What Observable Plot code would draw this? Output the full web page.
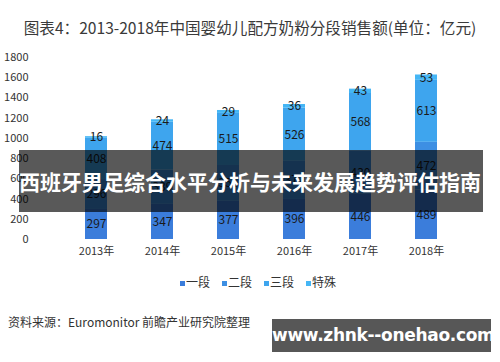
<!DOCTYPE html>
<html><head><meta charset="utf-8">
<script src="https://cdn.jsdelivr.net/npm/d3@7"></script>
<script src="https://cdn.jsdelivr.net/npm/@observablehq/plot@0.6"></script>
<style>
body{margin:0;background:#fff;}
#wrap{position:relative;width:500px;height:362px;overflow:hidden;font-family:"Noto Sans CJK SC","Noto Sans",sans-serif;background:#fff;}
.abs{position:absolute;white-space:nowrap;}
</style></head>
<body><div id="wrap"></div>
<script>
const years = ["2013年","2014年","2015年","2016年","2017年","2018年"];
const seriesNames = ["一段","二段","三段","特殊"];
const seg1 = [297,347,377,396,446,489];
const seg2 = [296,339,355,377,430,472];
const seg3 = [408,474,515,526,568,613];
const special = [16,24,29,36,43,53];
const colors = ["#3b7ddb","#3d8fe3","#3ea5ee","#45b6f5"];
const yTicks = [0,200,400,600,800,1000,1200,1400,1600,1800];
const titleText = "图表4：2013-2018年中国婴幼儿配方奶粉分段销售额(单位：亿元)";
const sourceText = "资料来源：Euromonitor 前瞻产业研究院整理";
const bannerText = "西班牙男足综合水平分析与未来发展趋势评估指南";
const watermarkText = "www.zhnk--onehao.com";

const allSeries = [seg1, seg2, seg3, special];
const data = [];
seriesNames.forEach((s, i) => years.forEach((y, j) => data.push({year: y, series: s, value: allSeries[i][j]})));

const wrap = document.getElementById("wrap");
function addDiv(html, style){const d=document.createElement("div");d.className="abs";d.innerHTML=html;d.setAttribute("style",style);wrap.appendChild(d);return d;}

addDiv(titleText, "left:0;width:500px;text-align:center;top:16px;font-size:15.6px;line-height:22px;color:#3a3a3a;");

const chart = Plot.plot({
  width: 500, height: 220,
  marginTop: 12, marginBottom: 26, marginLeft: 40, marginRight: 18,
  style: {fontFamily: "'Noto Sans CJK SC','Noto Sans',sans-serif", fontSize: "11px", color: "#333", background: "transparent"},
  x: {domain: years, padding: 0.67, label: null, tickSize: 0, tickPadding: 8},
  y: {domain: [0,1800], ticks: yTicks, tickFormat: d => String(d), label: null, tickSize: 0, tickPadding: 12},
  color: {domain: seriesNames, range: colors},
  marks: [
    Plot.gridY(yTicks, {stroke: "#d9d9d9", strokeOpacity: 1, x1: 40, x2: 478}),
    Plot.barY(data, {x: "year", y: "value", fill: "series", order: seriesNames}),
    Plot.textY(data, Plot.stackY({x: "year", y: "value", z: "series", text: d => String(d.value), order: seriesNames, fill: "#1a1a1a", fontSize: 12}))
  ]
});
chart.style.position = "absolute";
chart.style.left = "0px";
chart.style.top = "45px";
wrap.appendChild(chart);

// legend
const legend = addDiv("", "left:0;width:500px;top:274px;text-align:center;font-size:12px;line-height:16px;color:#333;padding-left:8px;");
seriesNames.forEach((s,i)=>{
  const sp=document.createElement("span");
  sp.style.marginRight = i<3 ? "12px" : "0";
  sp.innerHTML = `<span style="display:inline-block;width:5px;height:5px;background:${colors[i]};vertical-align:middle;margin-right:1px;"></span>${s}`;
  legend.appendChild(sp);
});

addDiv(sourceText, "left:8px;top:313px;font-size:12px;line-height:18px;color:#333;");

// overlay banner
addDiv(bannerText, "left:19px;top:150px;width:464px;height:62px;background:rgba(0,0,0,0.65);color:#fff;font-weight:bold;font-size:21px;line-height:62px;");

// faded text behind watermark
addDiv("©前瞻经济学人APP", "left:380px;top:336px;font-size:12px;color:#666;");
addDiv(watermarkText, "left:272px;top:319px;width:219px;height:33px;background:#575757;color:#fff;font-weight:bold;font-size:17px;line-height:33px;text-align:center;font-family:'DejaVu Sans',sans-serif;letter-spacing:-0.3px;");
</script></body></html>
